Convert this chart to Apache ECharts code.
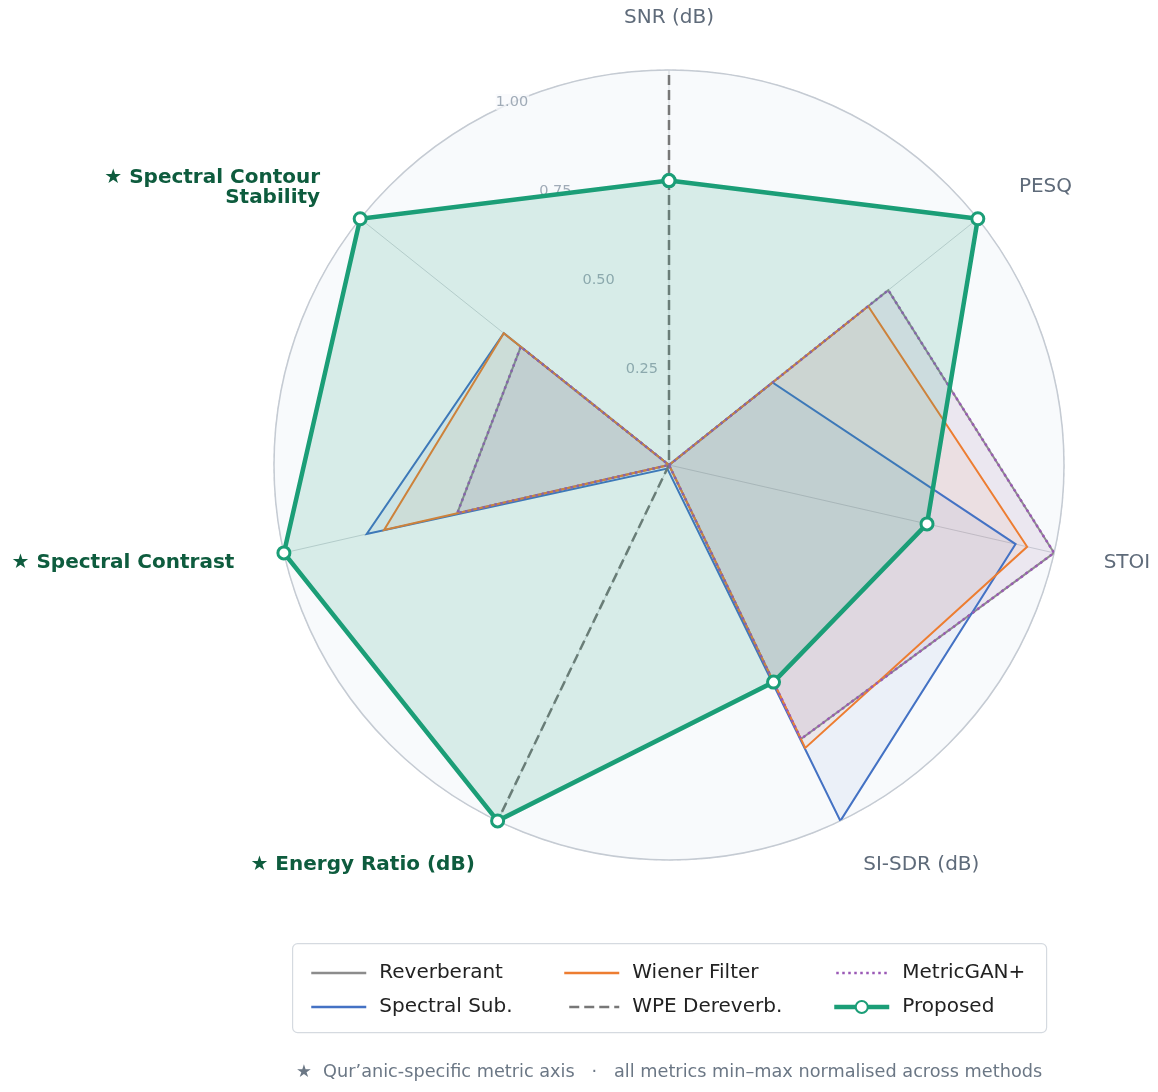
<!DOCTYPE html>
<html>
<head>
<meta charset="utf-8">
<title>Dereverberation metrics radar</title>
<script src="https://cdn.jsdelivr.net/npm/echarts@6.0.0/dist/echarts.min.js"></script>
<style>
  html, body { margin: 0; padding: 0; background: #fff; }
  #chart { width: 1158px; height: 1092px; }
</style>
</head>
<body>
<div id="chart"></div>
<script>
// metric axes, clockwise from the top
const metrics = ['SNR (dB)', 'PESQ', 'STOI', 'SI-SDR (dB)', 'Energy Ratio (dB)', 'Spectral Contrast', 'Spectral Contour\nStability'];
const quranic = [false, false, false, false, true, true, true];
const radialTicks = [0.25, 0.5, 0.75, 1.0];

// min-max normalised scores, same order as metrics
const reverberant  = [0, 0.71, 1.0, 0.77, 0, 0.55, 0.48];
const spectralSub  = [0, 0.335, 0.90, 1.0, 0.01, 0.785, 0.535];
const wienerFilter = [0, 0.645, 0.93, 0.795, 0, 0.74, 0.535];
const wpeDereverb  = [1.0, 0, 0, 0, 1.0, 0, 0];
const metricGan    = [0, 0.71, 1.0, 0.77, 0, 0.55, 0.48];
const proposed     = [0.72, 1.0, 0.67, 0.61, 1.0, 1.0, 1.0];

const FONT = 'DejaVu Sans';
const N = metrics.length;

// extra room around each metric name [top, right, bottom, left] so it sits off the rim like the original
const namePad = [[0, 0, 24, 0], [0, 0, 11, 27], [12, 0, 0, 32], [18, 0, 0, 15], [18, 15, 0, 0], [12, 32, 0, 0], [0, 26, 0, 0]];

// [radius, angle] pairs, first point repeated to close the polygon
function closed(values) {
  const pts = values.map((v, i) => [v, i]);
  pts.push([values[0], N]);
  return pts;
}

function methodSeries(name, values, color, opts) {
  return Object.assign({
    name: name,
    type: 'line',
    coordinateSystem: 'polar',
    polarIndex: 0,
    data: closed(values),
    symbol: 'none',
    lineStyle: { color: color, width: 2, join: 'miter' },
    itemStyle: { color: color },
    areaStyle: { color: color, opacity: 0.07 },
    z: 3
  }, opts || {});
}

const nameRich = {};
metrics.forEach((m, i) => {
  nameRich['m' + i] = quranic[i]
    ? { color: '#0e5c3e', fontWeight: 'bold', fontSize: 20, fontFamily: FONT, padding: namePad[i] }
    : { color: '#5f6b7a', fontSize: 20, fontFamily: FONT, padding: namePad[i] };
});

function legendItems(names) {
  return names.map(n => n === 'Proposed'
    ? { name: n, lineStyle: { width: 4.5 } }
    : { name: n, itemStyle: { opacity: 0 }, lineStyle: { width: 2.5 } });
}

const legendBase = {
  orient: 'vertical', top: 958,
  itemWidth: 55, itemHeight: 15, itemGap: 14,
  textStyle: { fontSize: 20, color: '#222', fontFamily: FONT, padding: [0, 0, 0, 8] }
};

const chart = echarts.init(document.getElementById('chart'), null, { renderer: 'canvas' });

const option = {
  animation: false,
  textStyle: { fontFamily: FONT },
  polar: [
    { center: [669, 465], radius: 395 },
    { center: [669, 465], radius: 395 }
  ],
  angleAxis: [
    {
      polarIndex: 0,
      type: 'value',
      min: 0,
      max: N,
      interval: 1,
      startAngle: 90,
      clockwise: true,
      axisLine: { show: true, lineStyle: { color: '#c5cbd3', width: 1.5 } },
      axisTick: { show: false },
      splitLine: { show: true, lineStyle: { color: '#cfd4d9', width: 1 } },
      axisLabel: {
        margin: 18,
        formatter: function (val) {
          const i = Math.round(val);
          if (i >= N) return '';
          const txt = (quranic[i] ? '★ ' : '') + metrics[i];
          return txt.split('\n').map(s => '{m' + i + '|' + s + '}').join('\n');
        },
        rich: nameRich
      }
    },
    {
      polarIndex: 1,
      type: 'value',
      min: 0,
      max: 360,
      startAngle: 116,
      axisLine: { show: false },
      axisTick: { show: false },
      axisLabel: { show: false },
      splitLine: { show: false }
    }
  ],
  radiusAxis: [
    {
      polarIndex: 0,
      type: 'value',
      min: 0,
      max: radialTicks[radialTicks.length - 1],
      interval: radialTicks[0],
      axisLine: { show: false },
      axisTick: { show: false },
      axisLabel: { show: false },
      splitLine: { show: true, lineStyle: { color: '#d6dadf', width: 1, type: [4, 4] } },
      splitArea: { show: true, areaStyle: { color: ['#f8fafc'] } }
    },
    {
      polarIndex: 1,
      type: 'value',
      min: 0,
      max: radialTicks[radialTicks.length - 1],
      interval: radialTicks[0],
      z: 1,
      axisLine: { show: false },
      axisTick: { show: false },
      splitLine: { show: false },
      splitArea: { show: false },
      axisLabel: {
        margin: 0,
        align: 'left',
        verticalAlign: 'bottom',
        color: '#a0abb7',
        fontSize: 14.5,
        fontFamily: FONT,
        backgroundColor: 'rgba(248,250,252,0.7)',
        padding: [1, 1, 0, 0],
        formatter: v => (v === 0 ? '' : v.toFixed(2))
      }
    }
  ],
  legend: [
    Object.assign({ data: legendItems(['Reverberant', 'Spectral Sub.']), left: 305 }, legendBase),
    Object.assign({ data: legendItems(['Wiener Filter', 'WPE Dereverb.']), left: 558 }, legendBase),
    Object.assign({ data: legendItems(['MetricGAN+', 'Proposed']), left: 827 }, legendBase)
  ],
  graphic: [
    {
      type: 'rect', left: 292, top: 943, z: 0,
      shape: { width: 754, height: 89, r: 5 },
      style: { fill: '#fff', stroke: '#d5dae0', lineWidth: 1.2 }
    },
    {
      type: 'text', left: 296, top: 1063,
      style: {
        text: '★  Qur’anic-specific metric axis   ·   all metrics min–max normalised across methods',
        fontSize: 17.7, fontFamily: FONT, fill: '#6b7785'
      }
    }
  ],
  series: [
    methodSeries('Reverberant', reverberant, '#8c8c8c', {
      areaStyle: { color: '#8c8c8c', opacity: 0.06 }
    }),
    methodSeries('Spectral Sub.', spectralSub, '#4472c4'),
    methodSeries('Wiener Filter', wienerFilter, '#ed7d31'),
    methodSeries('WPE Dereverb.', wpeDereverb, '#777777', {
      // path runs over each spoke twice; the offset lines the two passes' dashes up
      lineStyle: { color: '#777777', width: 2.5, type: [10, 5], dashOffset: 10, join: 'miter' },
      areaStyle: { color: '#777777', opacity: 0.06 }
    }),
    methodSeries('MetricGAN+', metricGan, '#9b59b6', {
      lineStyle: { color: '#9b59b6', width: 2.5, type: [2.5, 3.5], join: 'miter' }
    }),
    methodSeries('Proposed', proposed, '#1b9e77', {
      symbol: 'circle',
      symbolSize: 12,
      lineStyle: { color: '#1b9e77', width: 4.5, join: 'miter' },
      itemStyle: { color: '#ffffff', borderColor: '#1b9e77', borderWidth: 3 },
      areaStyle: { color: '#1b9e77', opacity: 0.15 },
      z: 4
    })
  ]
};

chart.setOption(option);
window.addEventListener('resize', () => chart.resize());
</script>
</body>
</html>
